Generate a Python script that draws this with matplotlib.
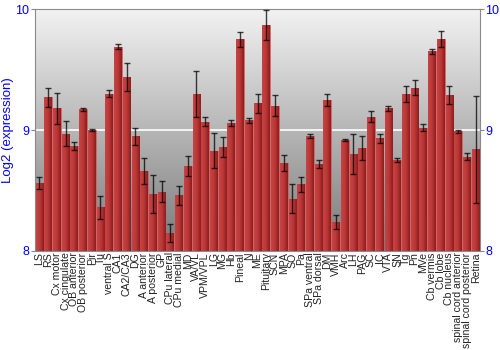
import numpy as np
import matplotlib
matplotlib.use('Agg')
import matplotlib.pyplot as plt
from matplotlib.colors import LinearSegmentedColormap

regions = ['LS', 'RS', 'Cx motor', 'Cx cingulate', 'OB anterior', 'OB posterior',
           'Pir', 'Tu', 'ventral S', 'CA1', 'CA2/CA3', 'DG', 'A anterior',
           'A posterior', 'GP', 'CPu lateral', 'CPu medial', 'MD', 'VA/VL',
           'VPM/VPL', 'LG', 'MG', 'Hb', 'Pineal', 'N', 'ME', 'Pituitary', 'SCN',
           'MPA', 'SO', 'Pa', 'SPa ventral', 'SPa dorsal', 'DM', 'VMH', 'Arc',
           'LH', 'PAG', 'SC', 'IC', 'VTA', 'SN', 'Tg', 'Pn', 'MVe', 'Cb vermis',
           'Cb lobe', 'Cb nucleus', 'spinal cord anterior',
           'spinal cord posterior', 'Retina']
expr = [8.56, 9.27, 9.18, 8.97, 8.87, 9.17, 9.00, 8.36, 9.30, 9.69, 9.44, 8.95,
        8.66, 8.47, 8.49, 8.15, 8.46, 8.70, 9.30, 9.07, 8.83, 8.86, 9.06, 9.75,
        9.08, 9.22, 9.87, 9.20, 8.73, 8.43, 8.55, 8.95, 8.72, 9.25, 8.24, 8.92,
        8.80, 8.85, 9.11, 8.93, 9.18, 8.75, 9.30, 9.35, 9.02, 9.65, 9.75, 9.29,
        8.99, 8.78, 8.84]
err = [0.05, 0.08, 0.13, 0.105, 0.033, 0.01, 0.01, 0.097, 0.03, 0.02, 0.115,
       0.07, 0.105, 0.157, 0.088, 0.077, 0.08, 0.084, 0.19, 0.034, 0.145, 0.08,
       0.024, 0.062, 0.02, 0.08, 0.124, 0.087, 0.065, 0.12, 0.063, 0.018, 0.036,
       0.052, 0.06, 0.007, 0.167, 0.1, 0.044, 0.036, 0.02, 0.017, 0.065, 0.063,
       0.03, 0.018, 0.065, 0.073, 0.014, 0.028, 0.443]

fig = plt.figure(figsize=(5, 3.5), dpi=100)
ax = fig.add_axes([0.07, 0.283, 0.89, 0.691])

x = np.arange(len(regions))
ax.set_xlim(-0.5, len(regions) - 0.5)
ax.set_ylim(8, 10)

# gray gradient background
bg = LinearSegmentedColormap.from_list('bg', ['#7a7a7a', '#f2f2f2'])
ax.imshow(np.linspace(0, 1, 256).reshape(-1, 1), cmap=bg, origin='lower',
          extent=[-0.5, len(regions) - 0.5, 8, 10], aspect='auto', zorder=0)
ax.axhline(9, color='white', lw=1.2, zorder=1)

bars = ax.bar(x, [v - 8 for v in expr], bottom=8, width=0.88,
              color='#b83232', edgecolor='#d66a6a', lw=0.6, zorder=2)

# shade bars left->right
redmap = LinearSegmentedColormap.from_list('red', ['#c84444', '#bb3838', '#8c1c1c'])
grad = np.linspace(0, 1, 64).reshape(1, -1)
for b in bars:
    im = ax.imshow(grad, cmap=redmap, extent=[b.get_x(), b.get_x() + b.get_width(),
                   8, 8 + b.get_height()], aspect='auto', zorder=2.5)
    im.set_clip_path(b)

ax.errorbar(x, expr, yerr=err, fmt='none', ecolor='black', alpha=0.75,
            elinewidth=1, capsize=2, capthick=1, zorder=3)

ax.set_xticks(x)
ax.set_xticklabels(regions, rotation=90, fontsize=7.6, color='#222222',
                   family='Liberation Sans')
ax.set_yticks([8, 9, 10])
ax.tick_params(axis='y', colors='#8a8a8a', labelcolor='blue', labelsize=9,
               right=True, labelright=True, length=3, pad=1)
ax.tick_params(axis='x', length=0, pad=1)
for t in ax.yaxis.get_ticklabels():
    t.set_family('Liberation Sans')
ax.set_ylabel('Log2 (expression)', color='blue', fontsize=9.5,
              family='Liberation Sans', labelpad=1)
for s in ax.spines.values():
    s.set_color('#8a8a8a')

fig.savefig('out.png', dpi=100)
